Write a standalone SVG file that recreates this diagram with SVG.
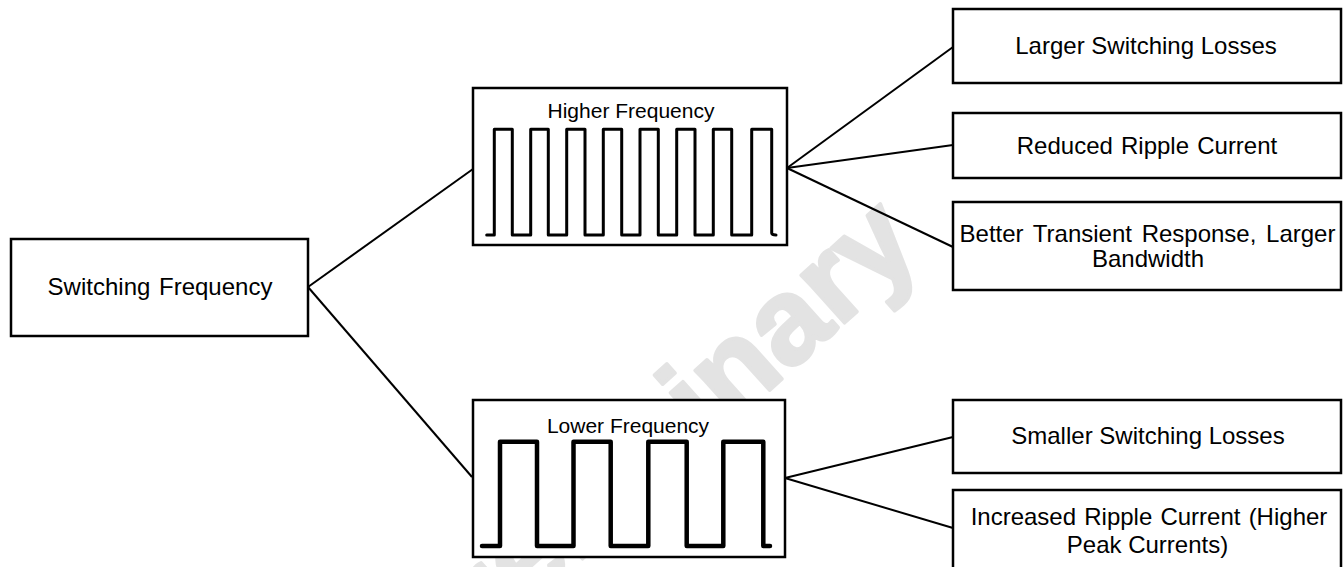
<svg xmlns="http://www.w3.org/2000/svg" width="1344" height="567" viewBox="0 0 1344 567">
<style>
.box{fill:#fff;stroke:#000;stroke-width:2.5}
.lbl{font-family:"Liberation Sans",Arial,sans-serif;font-size:24px;fill:#000;text-anchor:middle}
.sub{font-family:"Liberation Sans",Arial,sans-serif;font-size:21px;fill:#000;text-anchor:middle}
.wave{fill:none;stroke:#000;stroke-linejoin:round;stroke-linecap:round}
.conn line{stroke:#000;stroke-width:2}
.wm{font-family:"Liberation Sans",Arial,sans-serif;font-weight:bold;font-size:122px;fill:#e3e3e3;stroke:#e3e3e3;stroke-width:3.5;stroke-linejoin:round}
</style>
<rect width="1344" height="567" fill="#fff"/>
<g id="watermark">
<text class="wm" transform="translate(430,696) rotate(-42)">Preliminary</text>
</g>
<g id="connectors" class="conn">
<line x1="308" y1="287" x2="473" y2="169"/>
<line x1="308" y1="287" x2="472" y2="477"/>
<line x1="787" y1="168" x2="953" y2="47"/>
<line x1="787" y1="168" x2="953" y2="145"/>
<line x1="787" y1="168" x2="953" y2="247"/>
<line x1="785" y1="478" x2="953" y2="437"/>
<line x1="785" y1="478" x2="953" y2="528"/>
</g>
<g id="node-switching-frequency">
<rect class="box" x="11" y="239" width="297" height="97"/>
<text class="lbl" x="160" y="295" word-spacing="2">Switching Frequency</text>
</g>
<g id="node-higher-frequency">
<rect class="box" x="473" y="88" width="314" height="157"/>
<text class="sub" x="631" y="117.5">Higher Frequency</text>
<path class="wave" stroke-width="3" d="M486.7,235 H494.3 V129.3 H512.3 V235 H530.7 V129.3 H548.3 V235 H566.7 V129.3 H585 V235 H603.3 V129.3 H621.7 V235 H640 V129.3 H658.3 V235 H676.7 V129.3 H695 V235 H713.3 V129.3 H731.7 V235 H751.7 V129.3 H771.7 V233 Q772,235 776,235"/>
</g>
<g id="node-lower-frequency">
<rect class="box" x="473" y="400" width="312" height="157"/>
<text class="sub" x="628" y="433">Lower Frequency</text>
<path class="wave" stroke-width="4.5" d="M482,546 H500 V441.7 H537 V546 H573.5 V441.7 H610.7 V546 H648.3 V441.7 H686.7 V546 H723.3 V441.7 H763.3 V546 H770"/>
</g>
<g id="node-larger-switching-losses">
<rect class="box" x="953" y="9" width="388" height="74"/>
<text class="lbl" x="1146" y="53.5">Larger Switching Losses</text>
</g>
<g id="node-reduced-ripple-current">
<rect class="box" x="953" y="113" width="388" height="65"/>
<text class="lbl" x="1147" y="153.5" word-spacing="1.5">Reduced Ripple Current</text>
</g>
<g id="node-better-transient-response">
<rect class="box" x="953" y="202" width="388" height="88"/>
<text class="lbl" x="1147.5" y="242" word-spacing="3">Better Transient Response, Larger</text>
<text class="lbl" x="1148" y="267">Bandwidth</text>
</g>
<g id="node-smaller-switching-losses">
<rect class="box" x="953" y="400" width="388" height="73"/>
<text class="lbl" x="1148" y="443.5">Smaller Switching Losses</text>
</g>
<g id="node-increased-ripple-current">
<rect class="box" x="953" y="490" width="388" height="90"/>
<text class="lbl" x="1149" y="525" word-spacing="1.5">Increased Ripple Current (Higher</text>
<text class="lbl" x="1147.5" y="553">Peak Currents)</text>
</g>
</svg>
